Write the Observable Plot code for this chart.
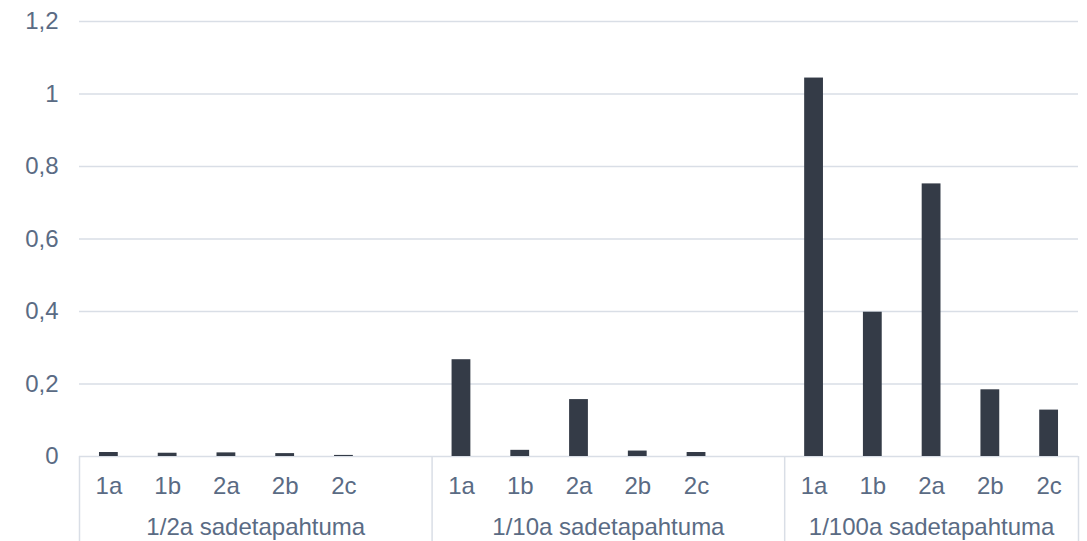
<!DOCTYPE html>
<html>
<head>
<meta charset="utf-8">
<script src="https://cdn.jsdelivr.net/npm/d3@7"></script>
<script src="https://cdn.jsdelivr.net/npm/@observablehq/plot@0.6"></script>
<style>
  html, body { margin: 0; padding: 0; background: #fff; overflow: hidden; }
  #chart svg { display: block; }
</style>
</head>
<body>
<div id="chart"></div>
<script>
// ---- data ----
const groups = ["1/2a sadetapahtuma", "1/10a sadetapahtuma", "1/100a sadetapahtuma"];
const groupSlots = [6, 6, 5]; // category slots per group (first two carry an empty slot)
const subcats = ["1a", "1b", "2a", "2b", "2c"];
const values_2a = [0.011, 0.009, 0.010, 0.008, 0.003];
const values_10a = [0.267, 0.017, 0.157, 0.015, 0.011];
const values_100a = [1.044, 0.398, 0.752, 0.184, 0.128];
const yTicks = [0, 0.2, 0.4, 0.6, 0.8, 1, 1.2];

// ---- build table ----
const seriesByGroup = [values_2a, values_10a, values_100a];
const starts = [];
let acc = 0;
for (const n of groupSlots) { starts.push(acc); acc += n; }
const totalSlots = acc;
const bars = [];
groups.forEach((g, gi) => {
  subcats.forEach((c, ci) => {
    bars.push({group: g, cat: c, slot: starts[gi] + ci, value: seriesByGroup[gi][ci]});
  });
});
const groupInfo = groups.map((g, gi) => ({
  group: g, start: starts[gi], end: starts[gi] + groupSlots[gi], mid: starts[gi] + groupSlots[gi] / 2
}));
const separators = [0, ...groupInfo.map(d => d.end)];

const textColor = "#5a6b84";
const gridColor = "#d9dee6";
const barColor = "#343b47";
const fmt = d => String(+d.toFixed(1)).replace(".", ",");
const FS = 24;

const chart = Plot.plot({
  width: 1087,
  height: 541,
  marginLeft: 79,
  marginRight: 9,
  marginTop: 21,
  marginBottom: 85,
  style: {fontFamily: "'Liberation Sans', Arial, sans-serif", fontSize: FS + "px", color: textColor, background: "#fff"},
  x: {type: "linear", domain: [0, totalSlots], axis: null},
  y: {domain: [0, 1.2], axis: null},
  marks: [
    Plot.ruleY(yTicks, {stroke: gridColor, strokeWidth: 1.5}),
    Plot.axisY({ticks: yTicks, tickFormat: fmt, tickSize: 0, tickPadding: 21, fontSize: FS, fill: textColor, label: null}),
    Plot.rectY(bars, {x1: d => d.slot + 0.34, x2: d => d.slot + 0.66, y: "value", fill: barColor}),
    Plot.ruleX(separators, {x: d => d, y1: 0, y2: -0.24, stroke: gridColor, strokeWidth: 1.5}),
    Plot.text(bars, {x: d => d.slot + 0.5, y: 0, text: "cat", dy: 30, fill: textColor, fontSize: FS, lineAnchor: "middle"}),
    Plot.text(groupInfo, {x: "mid", y: 0, text: "group", dy: 71, fill: textColor, fontSize: FS, lineAnchor: "middle"})
  ]
});
document.getElementById("chart").appendChild(chart);
</script>
</body>
</html>
